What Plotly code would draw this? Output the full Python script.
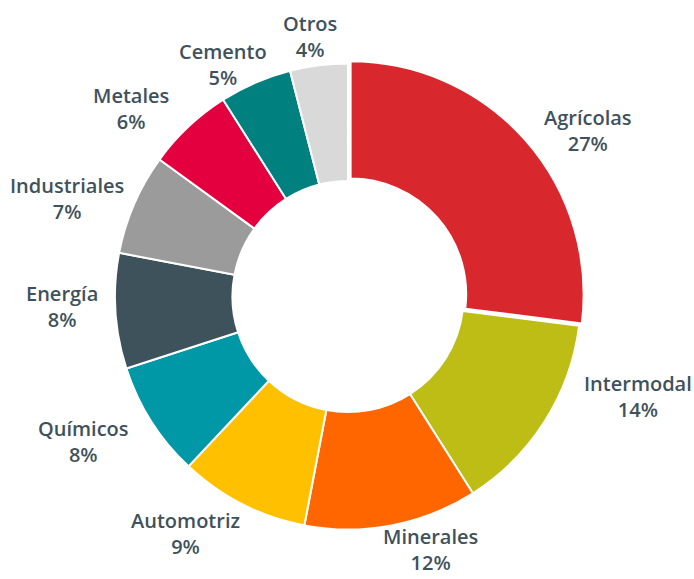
import math
import plotly.graph_objects as go

categories = ["Agrícolas", "Intermodal", "Minerales", "Automotriz", "Químicos",
              "Energía", "Industriales", "Metales", "Cemento", "Otros"]
values = [27, 14, 12, 9, 8, 8, 7, 6, 5, 4]
colors = ["#D9272E", "#BDBD15", "#FF6600", "#FFC000", "#0097A7",
          "#3E525B", "#9B9B9B", "#E4003E", "#00807F", "#D9D9D9"]

# label placement tweaks (angle nudge in degrees, radius in px from centre)
label_nudge_deg = [6.7, -13.3, -7.2, 7.4, 3.7, 1.6, -4.2, -5.9, -4.9, -1.1]
label_radius_px = [292, 307, 266, 287, 302, 286, 298, 287, 264, 263]

W, H = 694, 579
ML, MR, MT, MB = 2, 0, 60, 46
PW, PH = W - ML - MR, H - MT - MB

fig = go.Figure(go.Pie(
    labels=categories,
    values=values,
    sort=False,
    direction="clockwise",
    rotation=0,
    hole=0.496,
    marker=dict(colors=colors, line=dict(color="white", width=2)),
    textinfo="none",
    pull=[0.015, 0, 0, 0, 0, 0, 0, 0, 0, 0],
    showlegend=False,
    hoverinfo="label+percent",
))

total = sum(values)
cx, cy = ML + PW / 2, MT + PH / 2
cum = 0
for i, (lab, v) in enumerate(zip(categories, values)):
    mid = (cum + v / 2) / total * 360.0
    cum += v
    ang = math.radians(mid + label_nudge_deg[i])
    r = label_radius_px[i]
    px = cx + r * math.sin(ang)
    py = cy - r * math.cos(ang)
    fig.add_annotation(
        x=(px - ML) / PW, y=1 - (py - MT) / PH,
        xref="paper", yref="paper",
        text=f"{lab}<br>{round(v / total * 100)}%",
        showarrow=False, xanchor="center", yanchor="middle",
        borderpad=0,
        font=dict(family="Open Sans", size=20, color="#3F525C", weight=600),
        align="center",
    )

fig.update_layout(
    width=W, height=H,
    margin=dict(l=ML, r=MR, t=MT, b=MB),
    paper_bgcolor="white",
    plot_bgcolor="white",
)

fig.write_html("out.html", config={"displayModeBar": False},
               post_script="document.body.style.margin='0';")
